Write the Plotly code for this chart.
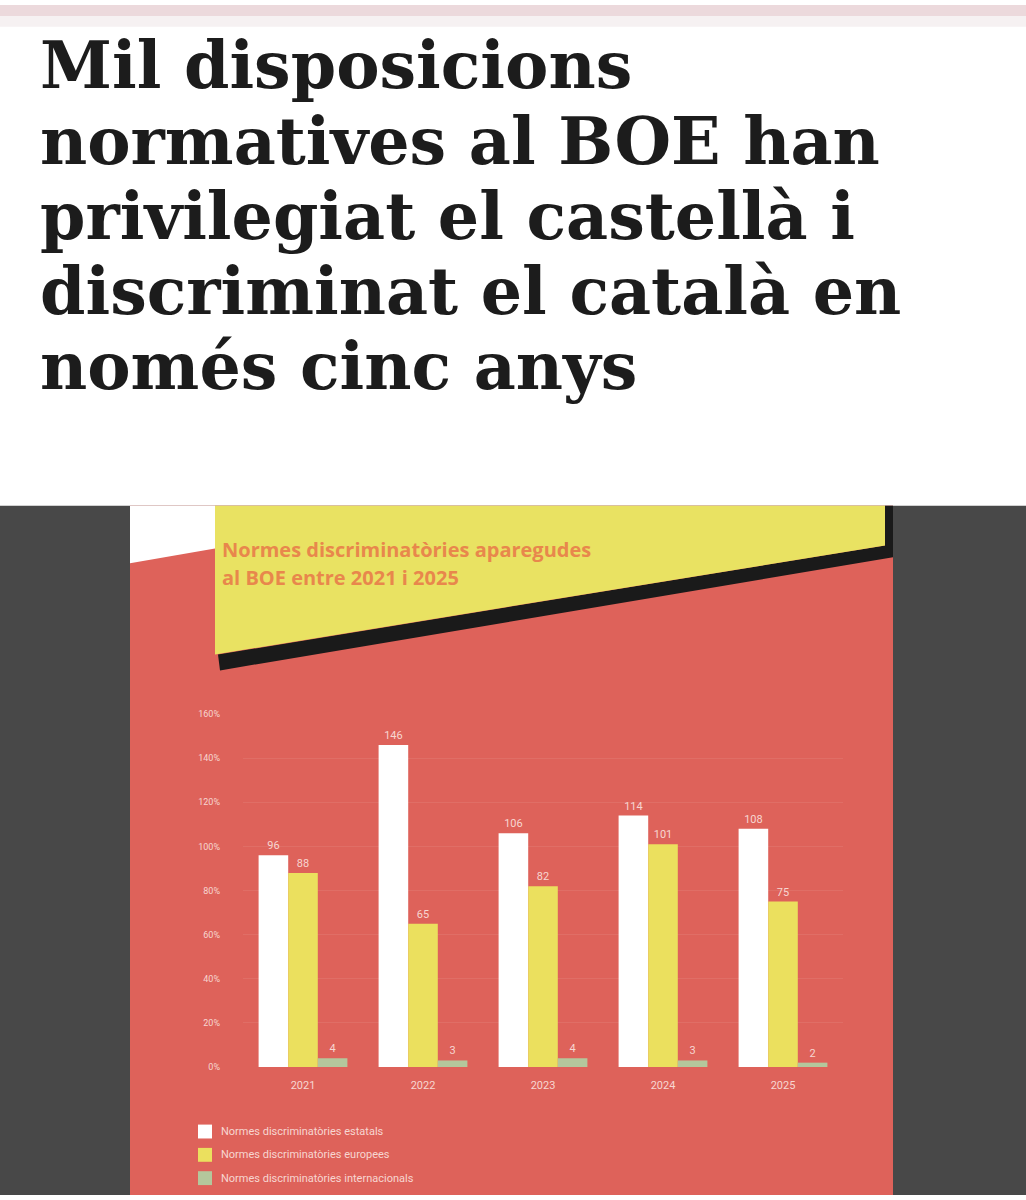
import plotly.graph_objects as go

# ---- data ----
years = ["2021", "2022", "2023", "2024", "2025"]
estatals = [96, 146, 106, 114, 108]
europees = [88, 65, 82, 101, 75]
internacionals = [4, 3, 4, 3, 2]
series_names = ["Normes discriminatòries estatals",
                "Normes discriminatòries europees",
                "Normes discriminatòries internacionals"]
y_ticks = [0, 20, 40, 60, 80, 100, 120, 140, 160]
y_tick_text = ["0%", "20%", "40%", "60%", "80%", "100%", "120%", "140%", "160%"]
headline = ["Mil disposicions", "normatives al BOE han", "privilegiat el castellà i",
            "discriminat el català en", "només cinc anys"]
chart_title = ["Normes discriminatòries aparegudes", "al BOE entre 2021 i 2025"]

W, H = 1026, 1200
def px(x): return x / W
def py(y): return 1 - y / H

RED = "#de625a"
YEL = "#ebe05e"
GRN = "#b4c79c"
LBL = "#f7d6d1"

fig = go.Figure()
colors = ["#ffffff", YEL, GRN]
for name, vals, col in zip(series_names, [estatals, europees, internacionals], colors):
    fig.add_bar(x=years, y=vals, name=name, marker=dict(color=col, line=dict(width=0)),
                text=[str(v) for v in vals], textposition="outside",
                textfont=dict(color=LBL, size=11, family="Roboto"),
                cliponaxis=False, showlegend=False)

shapes = []
def rect(x0, y0, x1, y1, col):
    shapes.append(dict(type="rect", xref="paper", yref="paper", x0=px(x0), x1=px(x1),
                       y0=py(y1), y1=py(y0), fillcolor=col, line=dict(width=0), layer="below"))
def poly(pts, col):
    d = "M " + " L ".join(f"{px(x)},{py(y)}" for x, y in pts) + " Z"
    shapes.append(dict(type="path", xref="paper", yref="paper", path=d,
                       fillcolor=col, line=dict(width=0), layer="below"))

# page background pieces
rect(0, 0, W, 11, "#ecd9dc")
rect(0, 11, W, 22, "#f6f1f2")
rect(0, 505, W, H, "#484848")
rect(130, 505, 893, H, RED)
poly([(130, 505), (215, 505), (215, 548), (130, 563)], "#ffffff")
poly([(885, 505), (893, 505), (893, 557), (220, 671), (218, 655), (885, 545)], "#1a1a1a")
poly([(215, 505), (885, 505), (885, 545), (215, 655)], "#e9e262")

# legend (manual)
ann = []
for i, (name, col) in enumerate(zip(series_names, colors)):
    yc = 1136 + i * 23.5
    rect(198, yc - 7, 212, yc + 7, col)
    ann.append(dict(text=name, x=px(219), y=py(yc), xref="paper", yref="paper",
                    xanchor="left", yanchor="middle", showarrow=False,
                    font=dict(size=11, color=LBL, family="Roboto")))

# headline
for i, line in enumerate(headline):
    ann.append(dict(text=f"<b>{line}</b>", x=px(38), y=py(61 + i * 75.8), xref="paper", yref="paper",
                    xanchor="left", yanchor="middle", showarrow=False,
                    font=dict(size=65, color="#1c1c1c", family="DejaVu Serif")))

# chart title in banner
for i, line in enumerate(chart_title):
    ann.append(dict(text=f"<b>{line}</b>", x=px(220), y=py(549 + i * 28), xref="paper", yref="paper",
                    xanchor="left", yanchor="middle", showarrow=False,
                    font=dict(size=20, color="#e8874c", family="Open Sans")))

fig.update_layout(
    width=W, height=H, margin=dict(l=0, r=0, t=0, b=0),
    paper_bgcolor="#ffffff", plot_bgcolor="rgba(0,0,0,0)",
    barmode="group", bargap=0.26, bargroupgap=0,
    shapes=shapes, annotations=ann, showlegend=False,
    xaxis=dict(domain=[px(243), px(843)], showgrid=False, zeroline=False, showline=False,
               ticks="", tickfont=dict(size=11, color=LBL, family="Roboto"),
               ticklabelstandoff=10, fixedrange=True),
    yaxis=dict(domain=[py(1071), py(715)], range=[0, 160], tickvals=y_ticks,
               ticktext=y_tick_text, showgrid=True, gridcolor="rgba(255,255,255,0.08)",
               zeroline=False, showline=False, ticks="",
               tickfont=dict(size=9, color=LBL, family="Roboto"),
               ticklabelstandoff=22, fixedrange=True),
)

fig.write_html("out.html")
